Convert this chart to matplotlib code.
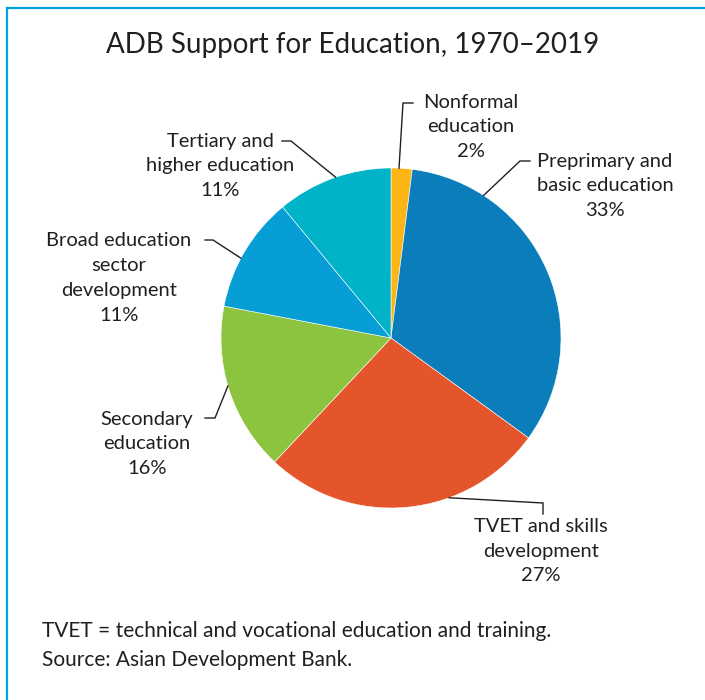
import matplotlib
matplotlib.use('Agg')
import matplotlib.pyplot as plt
from matplotlib.lines import Line2D
import numpy as np

plt.rcParams['font.family'] = ['Lato', 'DejaVu Sans']

# data, clockwise from 12 o'clock
labels = ['Nonformal\neducation', 'Preprimary and\nbasic education', 'TVET and skills\ndevelopment',
          'Secondary\neducation', 'Broad education\nsector\ndevelopment', 'Tertiary and\nhigher education']
shares = [2, 33, 27, 16, 11, 11]
colors = ['#FDB515', '#0B7DBA', '#E5552B', '#8CC43F', '#079ED6', '#00B3C9']

W, H = 705, 700
CX, CY, R = 391, 338, 170

fig = plt.figure(figsize=(W / 100, H / 100), dpi=100)
ax = fig.add_axes([0, 0, 1, 1])


def px(x, y):
    # pixel position -> data coords (pie radius = 1)
    return (x - CX) / R, (CY - y) / R


wedges, _ = ax.pie(shares, colors=colors, startangle=90, counterclock=False, radius=1,
                   wedgeprops=dict(edgecolor='white', linewidth=0.4), frame=True)
ax.set_xlim(-CX / R, (W - CX) / R)
ax.set_ylim((CY - H) / R, CY / R)
ax.set_aspect('equal')
ax.axis('off')

# label layout: text centre, anchor angle on rim, elbow pts (pixels)
lay = [
    dict(txt=(471, 127), ang=87.3, pts=[(403, 103), (413, 103)]),
    dict(txt=(605, 186), ang=57, pts=[(520, 161), (530, 161)]),
    dict(txt=(541, 551), ang=-70, pts=[(543, 503), (543, 514)]),
    dict(txt=(147, 444), ang=196.4, pts=[(215, 418), (205, 418)]),
    dict(txt=(119, 278), ang=152, pts=[(213, 240), (205, 240)]),
    dict(txt=(220, 166), ang=109, pts=[(291, 141), (282, 141)]),
]

for lab, s, l in zip(labels, shares, lay):
    a = np.deg2rad(l['ang'])
    xs = [np.cos(a)] + [px(*p)[0] for p in l['pts']]
    ys = [np.sin(a)] + [px(*p)[1] for p in l['pts']]
    ax.plot(xs, ys, color='#231F20', lw=1.0, solid_joinstyle='miter')
    tx, ty = px(*l['txt'])
    ax.text(tx, ty, f'{lab}\n{s}%', ha='center', va='center', fontsize=14.5,
            color='#231F20', linespacing=1.55)

fig.text(0.5, 1 - 45 / H, 'ADB Support for Education, 1970\u20132019', ha='center', va='center',
         fontsize=20, color='#231F20')
fig.text(42 / W, 1 - 631 / H, 'TVET = technical and vocational education and training.',
         ha='left', va='center', fontsize=15, color='#231F20')
fig.text(42 / W, 1 - 660 / H, 'Source: Asian Development Bank.',
         ha='left', va='center', fontsize=15, color='#231F20')

# frame lines (top and left)
fig.add_artist(Line2D([7 / W, 1], [1 - 8 / H, 1 - 8 / H], color='#00A3DF', lw=1.6))
fig.add_artist(Line2D([7 / W, 7 / W], [1 - 8 / H, 0], color='#00A3DF', lw=1.6))

fig.savefig('out.png', dpi=100, facecolor='white')
